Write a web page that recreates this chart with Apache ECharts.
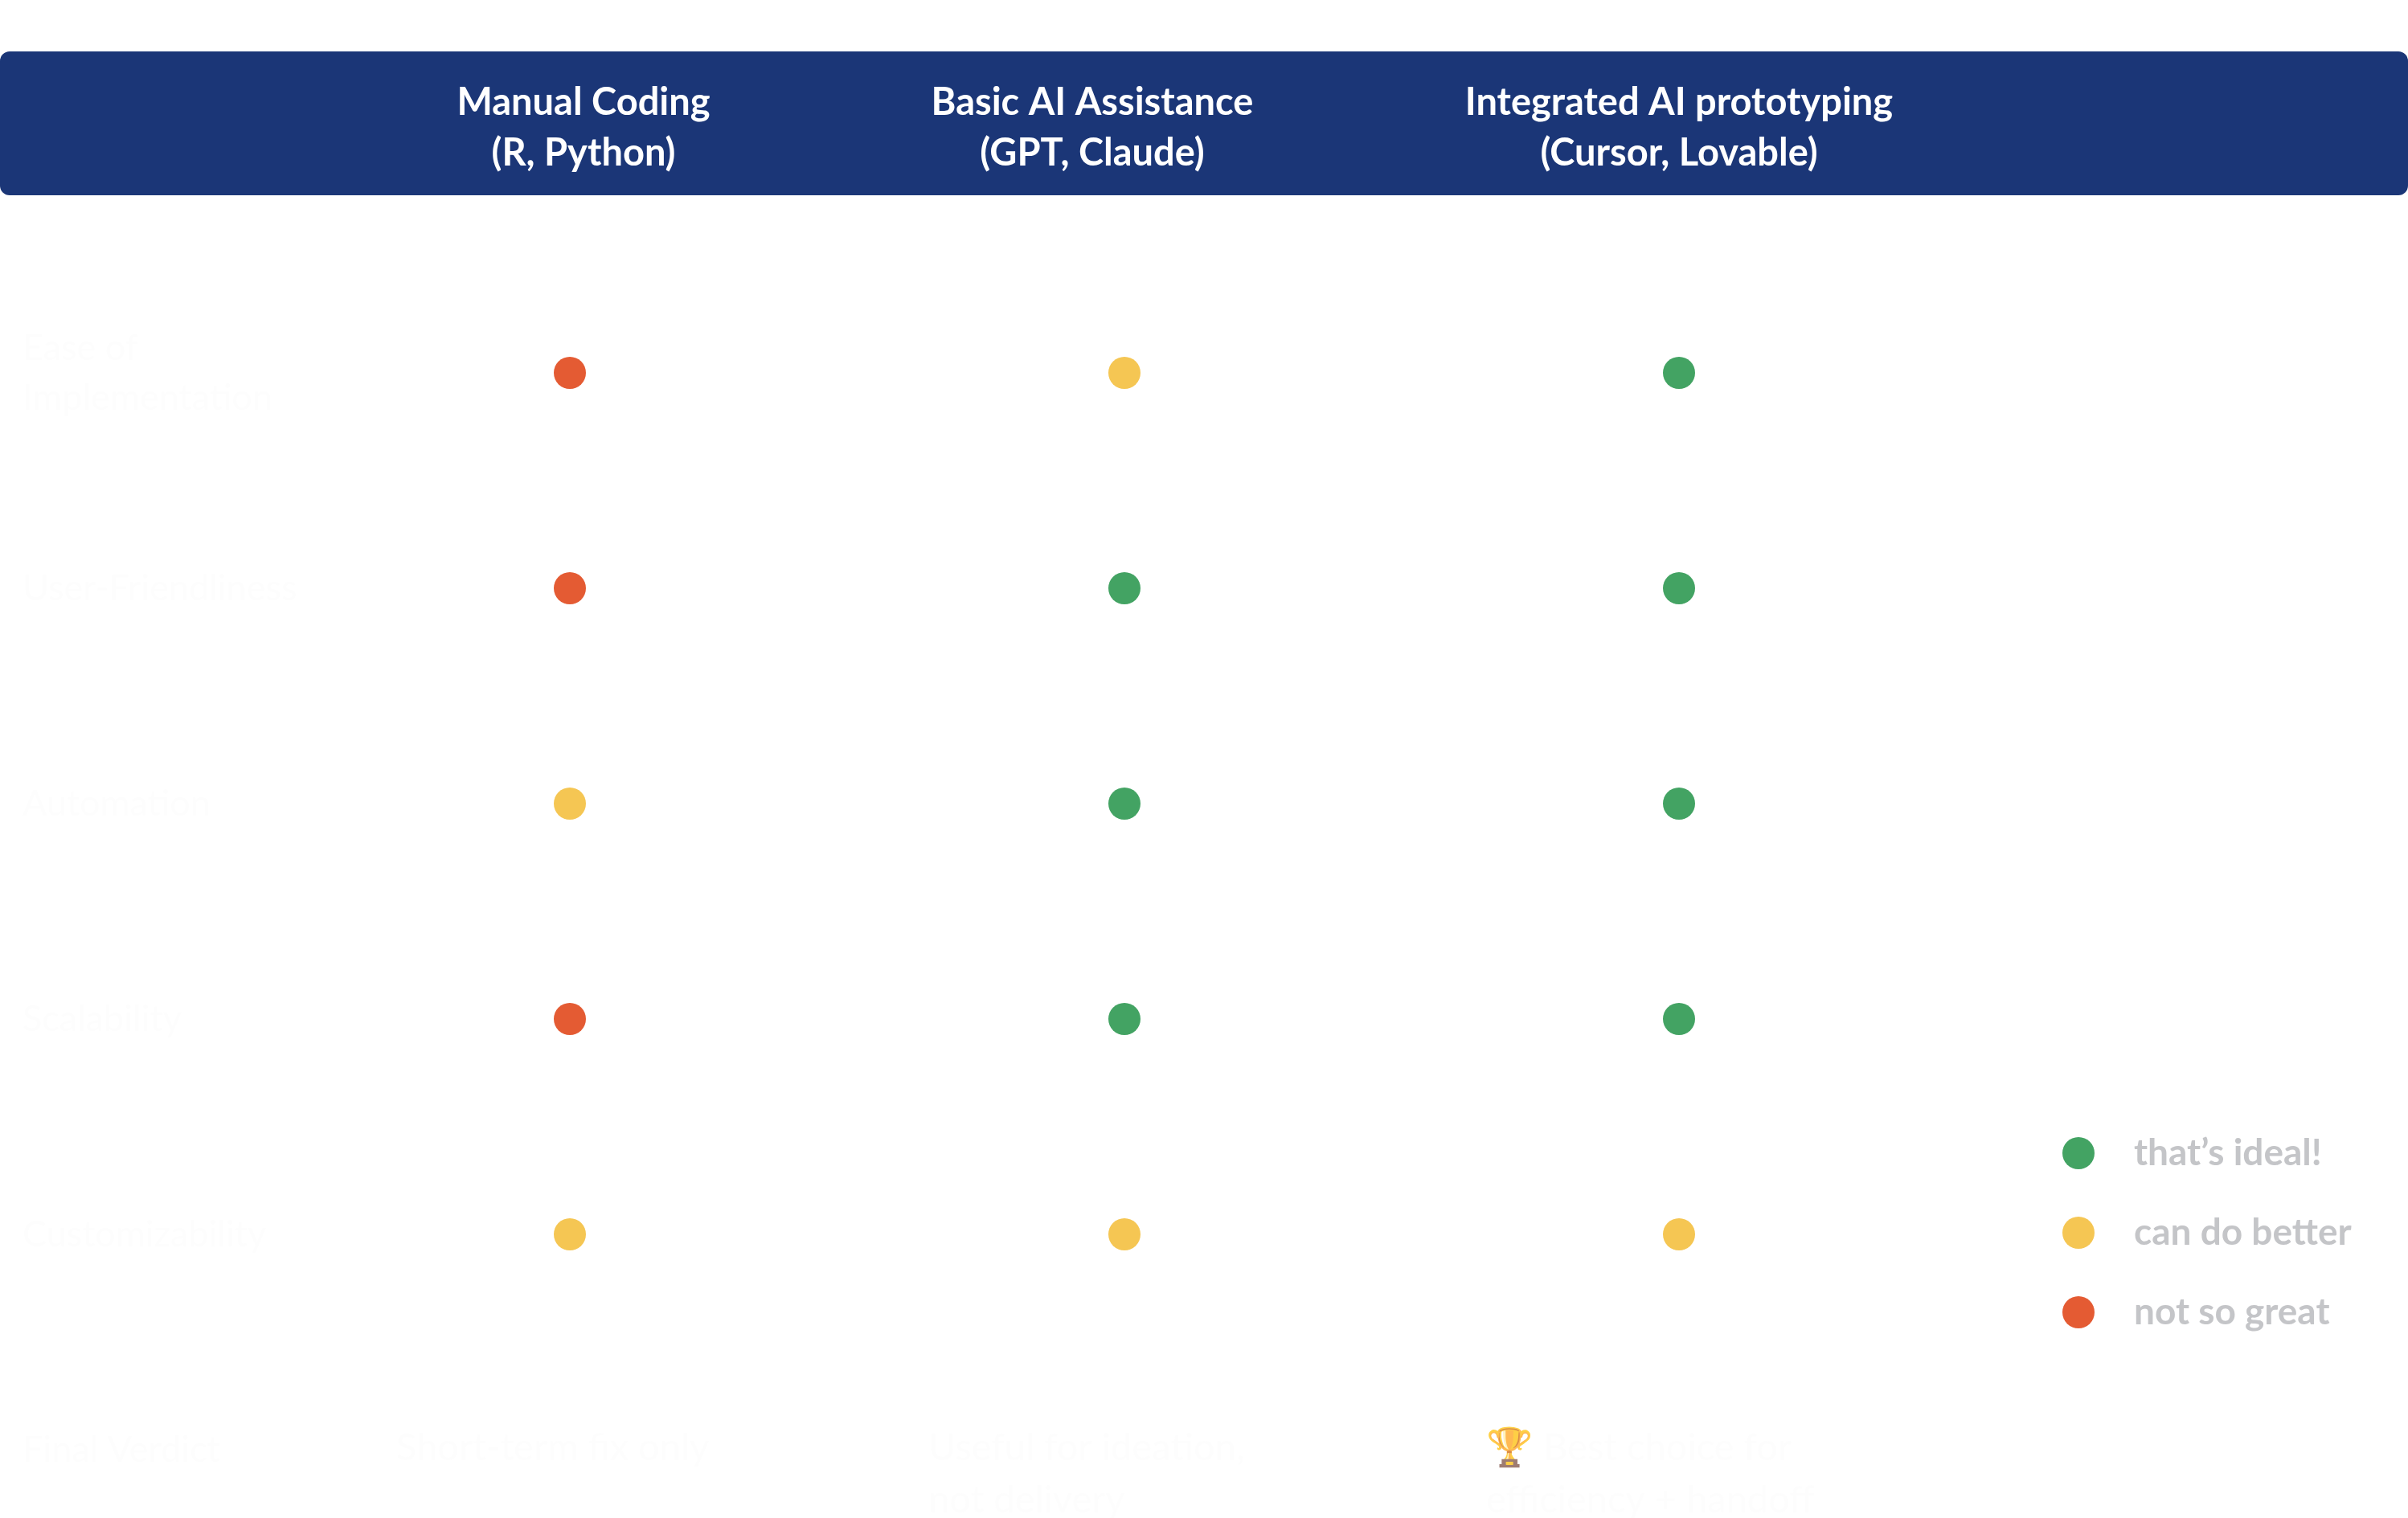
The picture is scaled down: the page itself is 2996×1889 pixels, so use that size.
<!DOCTYPE html>
<html>
<head>
<meta charset="utf-8">
<style>
  html, body { margin: 0; padding: 0; background: #ffffff; }
  #chart { width: 2996px; height: 1889px; }
</style>
<script src="https://cdn.jsdelivr.net/npm/echarts@6/dist/echarts.min.js"></script>
</head>
<body>
<div id="chart"></div>
<script>
// ---------- DATA ----------
const columns = ['Manual Coding', 'Basic AI Assistance', 'Integrated AI prototyping'];
const columnTools = ['(R, Python)', '(GPT, Claude)', '(Cursor, Lovable)'];
const rows = ['Ease of\nImplementation', 'User-Friendliness', 'Automation', 'Scalability', 'Customizability', 'Final Verdict'];
// rating per row (first 5 rows) for each column: good / ok / bad
const ratingsManual     = ['bad', 'bad', 'ok', 'bad', 'ok'];
const ratingsBasicAI    = ['ok', 'good', 'good', 'good', 'ok'];
const ratingsIntegrated = ['good', 'good', 'good', 'good', 'ok'];
const statusKeys = ['good', 'ok', 'bad'];
const statusNames = ['that’s ideal!', 'can do better', 'not so great'];
const verdicts = ['Short-term fix only', 'Useful for ideation,\nnot delivery', '🏆 Best choice for\nefficiency + handoff'];

// ---------- STYLE ----------
const statusColors = { good: '#43a363', ok: '#f5c653', bad: '#e45b33' };
const headerShift = [[0, 0, 0, 34], [0, 80, 0, 0], [0, 0, 0, 0]];
const verdictOffsetX = [-216, -244, -240];
const rowLabelPadTop = [28, 0, 0, 0, 0, 0];
const FONT = 'Lato, "Noto Sans", sans-serif';
const FAINT = '#fdfdfd';

const ratingsByColumn = [ratingsManual, ratingsBasicAI, ratingsIntegrated];

const rich = {};
headerShift.forEach((p, i) => {
  rich['h' + i] = { color: '#ffffff', fontSize: 47, fontWeight: 'bold', fontFamily: FONT, lineHeight: 63, padding: p };
});

const statusSeries = statusKeys.map((key, si) => {
  const data = [];
  ratingsByColumn.forEach((list, ci) => {
    list.forEach((r, ri) => { if (r === key) data.push([columns[ci], rows[ri]]); });
  });
  return {
    name: statusNames[si],
    type: 'scatter',
    symbol: 'circle',
    symbolSize: 40,
    itemStyle: { color: statusColors[key], opacity: 1 },
    emphasis: { disabled: true },
    data: data,
    z: 3
  };
});

const verdictSeries = {
  name: 'verdict',
  type: 'scatter',
  symbolSize: 0,
  silent: true,
  data: verdicts.map((v, ci) => ({
    value: [columns[ci], rows[rows.length - 1]],
    label: { offset: [verdictOffsetX[ci], -35] }
  })),
  label: {
    show: true,
    position: 'inside',
    align: 'left',
    verticalAlign: 'top',
    formatter: p => verdicts[p.dataIndex],
    color: FAINT,
    fontSize: 47,
    fontFamily: FONT,
    lineHeight: 65
  }
};

const rowLabelStyle = { color: FAINT, fontSize: 45, fontFamily: FONT, lineHeight: 62, align: 'left' };

const chart = echarts.init(document.getElementById('chart'), null, { renderer: 'canvas' });
chart.setOption({
  backgroundColor: '#ffffff',
  animation: false,
  graphic: [{
    type: 'rect',
    z: -10,
    shape: { x: 0, y: 64, width: 2996, height: 179, r: 12 },
    style: { fill: '#1b3677' }
  }],
  grid: { left: 709, right: 907, top: 464, bottom: 85, containLabel: false, outerBoundsMode: 'none' },
  xAxis: {
    type: 'category',
    data: columns,
    position: 'top',
    boundaryGap: false,
    axisLine: { show: false },
    axisTick: { show: false },
    splitLine: { show: false },
    axisLabel: {
      margin: 305,
      verticalAlign: 'middle',
      interval: 0,
      formatter: (value, idx) => '{h' + idx + '|' + value + '}\n{h' + idx + '|' + columnTools[idx] + '}',
      rich: rich
    }
  },
  yAxis: {
    type: 'category',
    data: rows.map((r, i) => ({
      value: r,
      textStyle: Object.assign({}, rowLabelStyle, { padding: [rowLabelPadTop[i], 0, 0, 0] })
    })),
    inverse: true,
    boundaryGap: false,
    axisLine: { show: false },
    axisTick: { show: false },
    splitLine: { show: false },
    axisLabel: Object.assign({ margin: 681, interval: 0 }, rowLabelStyle)
  },
  legend: {
    data: statusNames,
    orient: 'vertical',
    left: 2561,
    top: 1407,
    icon: 'circle',
    itemWidth: 40,
    itemHeight: 40,
    itemGap: 53,
    selectedMode: false,
    itemStyle: { opacity: 1 },
    textStyle: {
      color: '#c4c5c8',
      fontSize: 46,
      fontWeight: 'bold',
      fontFamily: FONT,
      lineHeight: 40,
      padding: [0, 0, 0, 44]
    }
  },
  series: statusSeries.concat([verdictSeries])
});
</script>
</body>
</html>
